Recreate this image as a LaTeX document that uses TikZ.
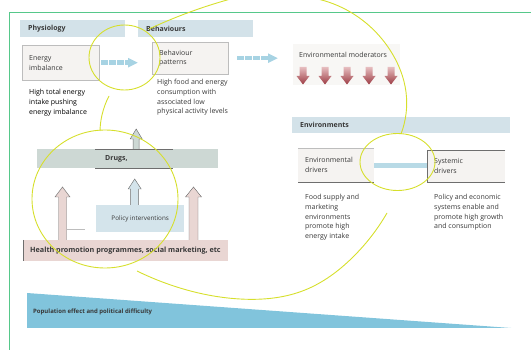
\documentclass[tikz,border=0pt]{standalone}
\usepackage{fontspec}
\setmainfont{Open Sans}
\usepackage{tikz}
\usetikzlibrary{arrows.meta, hobby, calc}
\usepackage{xcolor}
\definecolor{intesta}{HTML}{D3E2E9}
\definecolor{grigino}{HTML}{F5F3F1}
\definecolor{bordo}{HTML}{BDBDBD}
\definecolor{scuro}{HTML}{6E6E6E}
\definecolor{azzurro}{HTML}{A7D3E3}
\definecolor{polvere}{HTML}{B8DAE6}
\definecolor{celeste}{HTML}{D4E4EB}
\definecolor{salvia}{HTML}{CDD8D4}
\definecolor{rosa}{HTML}{E9D6D3}
\definecolor{rosso}{HTML}{9C3B43}
\definecolor{rosino}{HTML}{E6BDBF}
\definecolor{mare}{HTML}{81C4DC}
\definecolor{verde}{HTML}{56C88A}
\definecolor{evid}{HTML}{D6DF2C}
\definecolor{inchiostro}{HTML}{383838}
\newcommand{\corpo}{\fontsize{7}{9.8}\selectfont}
\newcommand{\piccolo}{\fontsize{6.3}{7.5}\selectfont}
% freccia piena verso l'alto: base, lunghezza, colore, mezzo fusto, mezza punta
\newcommand{\blocco}[5]{%
  \filldraw[fill=#3, draw=scuro, line width=0.45pt]
    ($#1+(-#4,0)$) -- ($#1+(-#4,-#2+10)$) -- ($#1+(-#5,-#2+10)$) -- ($#1+(0,-#2)$)
    -- ($#1+(#5,-#2+10)$) -- ($#1+(#4,-#2+10)$) -- ($#1+(#4,0)$);}

\begin{document}
\begin{tikzpicture}[x=1pt, y=-1pt, font=\corpo, text=inchiostro,
    intestazione/.style={anchor=north west, fill=intesta, minimum height=17pt, inner xsep=8pt, inner ysep=0pt, align=left, font=\corpo\bfseries},
    scatola/.style={anchor=north west, fill=grigino, inner xsep=7pt, inner ysep=0pt, align=left},
    nota/.style={anchor=north west, inner sep=0pt, align=left},
    tratteggio/.style={draw=azzurro, line width=4.5pt, dash pattern=on 6.5pt off 1.5pt, -{Triangle[length=10pt, width=9pt]}},
    giallo/.style={draw=evid, line width=0.9pt},
    filo/.style={draw=scuro, line width=0.5pt}]
    \useasboundingbox (0,0) rectangle (531,350);
    % Cornice
    \draw[verde, line width=0.6pt] (9,350) -- (9,12) -- (531,12);

    % Intestazioni
    \node[intestazione, text width=89pt] (fisio) at (20,20) {Physiology};
    \node[intestazione, text width=99pt] (comport) at (138,20) {Behaviours};
    \node[intestazione, text width=202pt, minimum height=16pt] (ambienti) at (292,117) {Environments};

    % Scatole
    \node[scatola, draw=bordo, line width=0.4pt, text width=63pt, minimum height=35pt] (squilibrio) at (22,45) {Energy\\imbalance};
    \node[scatola, draw=bordo, line width=0.4pt, text width=62pt, minimum height=32pt] (schemi) at (152,42) {Behaviour\\patterns};
    \node[anchor=north west, fill=grigino!70, minimum width=107pt, minimum height=41pt, inner sep=0pt] (moderatori) at (293,44) {};
    \node[anchor=west, inner sep=0pt] (moderatorit) at ($(moderatori.north west)+(6,11)$) {Environmental moderators};
    \node[scatola, text width=62pt, minimum height=34pt] (driver) at (298,148) {Environmental\\drivers};
    \node[scatola, text width=64pt, minimum height=32pt] (sistemici) at (427,150) {Systemic\\drivers};
    \draw[bordo, line width=0.6pt] (driver.north west) -- (driver.north east);
    \draw[filo] (driver.south west) -- (driver.south east);
    \draw[filo] (sistemici.north east) -- (sistemici.north west) -- (sistemici.south west) -- (sistemici.south east);

    % Note
    \node[nota, text=black] (nota1) at (29,89) {High total energy\\intake pushing\\energy imbalance};
    \node[nota] (nota2) at (157,79) {High food and energy\\consumption with\\associated low\\physical activity levels};
    \node[nota] (nota3) at (305,194) {Food supply and\\marketing\\environments\\promote high\\energy intake};
    \node[nota] (nota4) at (434,194) {Policy and economic\\systems enable and\\promote high growth\\and consumption};

    % Frecce tratteggiate
    \draw[tratteggio, shorten <=2pt, shorten >=14pt] (squilibrio.east) -- (squilibrio.east -| schemi.west);
    \draw[tratteggio, shorten <=9pt, shorten >=15pt] (schemi.east) -- (schemi.east -| moderatori.west);

    % Frecce rosse
    \foreach \i in {0,...,4}{
        \pgfmathsetmacro{\cx}{303+22*\i}
        \shade[top color=rosino, bottom color=rosso] (\cx-3.5,67) -- (\cx+3.5,67) -- (\cx+3.5,76) -- (\cx+6.5,76) -- (\cx,84.5) -- (\cx-6.5,76) -- (\cx-3.5,76) -- cycle;
    }

    % Connettore ambienti
    \draw[polvere, line width=5pt] (driver.east) -- (driver.east -| sistemici.west);

    % Barra farmaci
    \node[anchor=north west, fill=salvia, minimum width=181pt, minimum height=19pt, inner sep=0pt] (barra) at (37,149) {};
    \node[anchor=north west, text width=58pt, inner xsep=10pt, inner ysep=0pt, minimum height=19pt, align=left, font=\corpo\bfseries] (farmaci) at (95,149) {Drugs,};
    \draw[filo] (farmaci.north west) -- (farmaci.north east);
    \draw[filo] (farmaci.south west) -- (farmaci.south east);

    % Interventi e promozione
    \node[anchor=north west, fill=celeste, minimum width=88pt, minimum height=27pt, inner sep=0pt, font=\piccolo] (politiche) at (96,205) {Policy interventions};
    \node[anchor=north west, fill=rosa, minimum width=205pt, minimum height=21pt, inner sep=0pt] (salute) at (23,240) {};
    \node[anchor=west, inner sep=0pt, font=\fontsize{7.2}{8}\selectfont\bfseries] (salutet) at ($(salute.west)+(7,0)$) {Health promotion programmes, social marketing, etc};
    \draw[filo] (salute.north west) -- (salute.south west);
    \draw[bordo, line width=0.5pt] (67,229) -- (85,229);

    % Frecce verso l'alto
    \coordinate (piede1) at ($(salute.north west)+(39.5,0)$);
    \coordinate (piede2) at ($(salute.north west)+(170.5,0)$);
    \coordinate (piede3) at ($(politiche.north)+(-5.5,0)$);
    \coordinate (piede4) at ($(farmaci.north)+(2,0)$);
    \blocco{(piede1)}{53}{rosa}{4}{7.5}
    \blocco{(piede2)}{53}{rosa}{4.5}{8}
    \blocco{(piede3)}{26}{celeste}{4}{6.5}
    \blocco{(piede4)}{20}{salvia}{3}{6}

    % Triangolo
    \fill[mare] (27,293) -- (511,328) -- (27,328) -- cycle;
    \node[anchor=west, inner sep=0pt, font=\fontsize{6}{7}\selectfont\bfseries] (popolazione) at (33,312) {Population effect and political difficulty};

    % Annotazioni
    \begin{scope}
        \clip (0,0) rectangle (531,350);
        \draw[giallo, use Hobby shortcut] (242,-4) .. (190,12) .. (149,29);
        \draw[giallo] (124.5,57.5) ellipse [x radius=35.5, y radius=32.5];
        \draw[giallo, use Hobby shortcut] (313,-2) .. (352,13) .. (390,50) .. (406,92) .. (401,134);
        \draw[giallo] (397.5,162) ellipse [x radius=37.5, y radius=28.5];
        \draw[giallo, use Hobby shortcut] (387,213) .. (352,258) .. (305,290) .. (240,299) .. (180,288) .. (137,271);
        \draw[giallo] (105,199) ellipse [x radius=73, y radius=69];
        \draw[giallo, use Hobby shortcut] (100,131) .. (102,115) .. (109,96);
    \end{scope}
\end{tikzpicture}
\end{document}
